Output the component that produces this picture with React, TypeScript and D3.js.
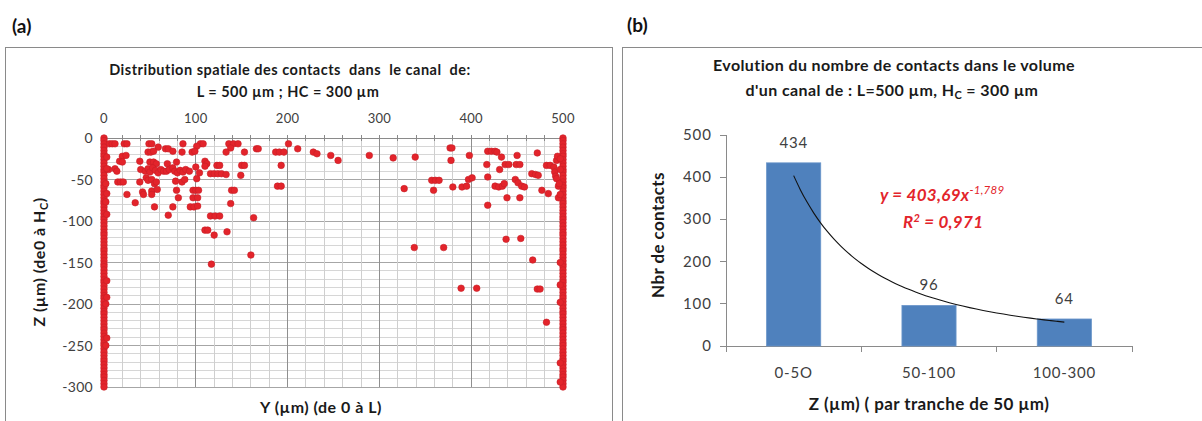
import * as d3 from "d3";

// ---- panel (a): spatial distribution of contacts ----
// interior contacts [Y (µm), Z (µm)]
const contacts: [number, number][] = [
  [6, -7], [9, -7], [12, -7], [22, -7], [25, -7], [49, -7], [52, -7], [86, -7], [105, -7], [108, -7],
  [136, -7], [141, -7], [146, -7], [201, -7],
  [59, -11], [67, -13], [70, -13], [101, -10], [138, -12], [166, -13], [168, -13], [211, -13],
  [48, -17], [51, -17], [54, -16], [75, -16], [85, -17], [96, -17], [99, -16], [133, -17], [153, -17],
  [187, -17], [191, -17], [196, -17],
  [20, -22], [24, -21], [17, -28], [20, -29], [39, -28], [50, -29], [54, -29], [57, -31], [69, -31],
  [79, -29], [110, -28], [112, -31],
  [110, -34], [123, -33], [126, -33], [150, -33], [153, -33], [193, -33],
  [5, -38], [12, -37], [14, -40], [40, -38], [45, -40], [48, -37], [50, -41], [53, -36], [56, -39],
  [59, -42], [62, -38], [65, -40], [68, -40], [71, -38], [75, -36], [77, -40], [80, -42], [83, -39],
  [86, -41], [89, -38], [93, -40], [100, -35], [104, -42],
  [116, -43], [120, -43], [124, -43], [128, -43], [133, -44], [149, -45],
  [15, -53], [18, -53], [21, -53], [39, -53], [46, -48], [48, -51], [52, -50], [55, -55], [57, -53],
  [78, -52], [85, -53], [88, -50], [101, -49],
  [189, -58], [193, -58],
  [42, -65], [52, -64], [58, -62], [79, -63], [97, -63], [100, -63], [103, -63], [139, -63], [142, -63],
  [25, -68], [43, -68], [52, -68], [81, -72], [97, -72], [102, -72],
  [34, -78], [55, -83], [75, -83], [94, -83], [98, -83], [102, -82], [138, -79],
  [70, -93], [116, -94], [121, -94], [126, -94], [163, -96],
  [110, -111], [113, -111], [120, -117], [134, -113], [160, -141], [117, -152],
  [228, -17], [232, -19], [247, -21], [255, -27], [289, -21], [315, -24], [339, -23],
  [377, -12], [379, -12], [378, -27], [398, -21], [418, -16], [422, -16], [426, -16], [428, -17],
  [433, -23], [450, -21], [472, -18],
  [417, -32], [431, -38], [437, -32], [441, -32], [449, -32], [453, -32], [482, -33], [486, -33],
  [490, -35], [493, -27], [494, -22],
  [466, -43], [470, -44], [473, -45], [491, -41], [492, -46], [493, -49],
  [357, -51], [361, -51], [365, -51], [418, -47], [397, -50], [401, -48],
  [327, -61], [359, -63], [380, -59], [390, -59], [395, -58], [426, -58], [430, -59], [434, -58],
  [436, -55], [448, -50], [451, -54], [455, -58], [458, -59],
  [477, -63], [484, -67], [495, -58], [495, -72],
  [439, -72], [453, -72], [418, -81],
  [438, -122], [454, -121], [338, -132], [370, -132], [467, -147],
  [389, -181], [406, -181], [472, -182], [475, -182], [482, -222],
  // small bumps along the walls
  [3, -23], [3, -37], [2, -55], [3, -67], [2, -77], [3, -92],
  [3, -172], [3, -192], [2, -200], [3, -241], [2, -250],
  [497, -25], [497, -38], [496, -55], [497, -68],
  [497, -150], [497, -177], [497, -198], [497, -271], [497, -294],
];

// contacts piled along both walls (Y = 0 and Y = L)
const wallY = [0, 500];
const wallZ = [
  0, -3, -7, -11, -15, -19, -22, -26, -30, -34, -38, -41, -45, -49, -53, -57, -60, -64, -68, -72,
  -76, -79, -83, -87, -91, -95, -98, -102, -106, -110, -114, -117, -121, -125, -129, -133, -136,
  -140, -144, -148, -152, -155, -159, -163, -167, -171, -174, -178, -182, -186, -190, -193, -197,
  -201, -205, -209, -212, -216, -220, -224, -228, -231, -235, -239, -243, -247, -250, -254, -258,
  -262, -266, -269, -273, -277, -281, -285, -288, -292, -296, -300,
];

const yTicksA = [0, -50, -100, -150, -200, -250, -300];
const xTicksA = [0, 100, 200, 300, 400, 500];

// ---- panel (b): number of contacts per Z slice ----
const slices = ["0-5O", "50-100", "100-300"];
const counts = [434, 96, 64];
const countTicks = [0, 100, 200, 300, 400, 500];
const fitA = 403.69;
const fitB = -1.789;

const FONT = "Lato, 'Open Sans', sans-serif";
const RED = "#e3242b";
const INK = "#1a1a1a";

export default function App() {
  // panel (a) scales
  const xa = d3.scaleLinear([0, 500], [104, 563]);
  const za = d3.scaleLinear([0, -300], [138, 387]);

  const points: [number, number][] = [
    ...wallY.flatMap((y) => wallZ.map((z) => [y, z] as [number, number])),
    ...contacts,
  ];

  // panel (b) scales
  const xb = d3.scaleBand(slices, [726, 1132]);
  const yb = d3.scaleLinear([0, 500], [346, 135]);
  const barW = xb.bandwidth() * 0.4;
  const center = (i: number) => xb(slices[0])! + xb.bandwidth() / 2 + i * xb.step();
  const fit = d3
    .range(1, 3.0001, 0.05)
    .map((t) => [center(t - 1), yb(fitA * Math.pow(t, fitB))] as [number, number]);
  const fitLine = d3.line().curve(d3.curveMonotoneX)(fit);

  return (
    <div style={{ position: "absolute", left: 0, top: 0 }}>
      <svg width={1202} height={421} style={{ display: "block", background: "#fff" }} fontFamily={FONT}>
        {/* ---------- panel (a) ---------- */}
        <text x={12} y={33} fontSize={19} fontWeight="bold" fill="#111">(a)</text>
        <rect x={5.5} y={47.5} width={607} height={400} fill="none" stroke="#8a8a8a" />
        <text textAnchor="middle" fontSize={14.5} fontWeight="bold" fill={INK} letterSpacing={0.5}
          style={{ whiteSpace: "pre" }}>
          <tspan x={290} y={75}>Distribution spatiale des contacts  dans  le canal  de:</tspan>
          <tspan x={288} y={97}>L = 500 µm ; HC = 300 µm</tspan>
        </text>

        {/* grid */}
        <g shapeRendering="crispEdges">
          {d3.range(0, -301, -10).map((z) => (
            <line key={"h" + z} x1={xa(0)} x2={xa(500)} y1={za(z)} y2={za(z)}
              stroke={z % 50 === 0 ? "#a6a6a6" : "#d6d6d6"} />
          ))}
          {d3.range(0, 501, 20).map((v) => (
            <line key={"v" + v} x1={xa(v)} x2={xa(v)} y1={za(0)} y2={za(-300)}
              stroke={v % 100 === 0 ? "#8f8f8f" : "#cfcfcf"} />
          ))}
          <line x1={xa(0)} x2={xa(500)} y1={za(0)} y2={za(0)} stroke="#8a8a8a" />
          {d3.range(0, 501, 20).map((v) => (
            <line key={"t" + v} x1={xa(v)} x2={xa(v)} y1={za(0) - 3} y2={za(0) + 3} stroke="#8a8a8a" />
          ))}
        </g>
        {xTicksA.map((v) => (
          <text key={v} x={xa(v)} y={123} textAnchor="middle" fontSize={13} fill="#404040" letterSpacing={0.3}>{v}</text>
        ))}
        {yTicksA.map((v) => (
          <text key={v} x={93} y={za(v) + 5} textAnchor="end" fontSize={14} fill="#404040" letterSpacing={0.3}>{v}</text>
        ))}

        <g fill={RED} stroke="#c81f27" strokeWidth={0.6}>
          {points.map(([y, z], i) => (
            <circle key={i} cx={xa(y)} cy={za(z)} r={3.3} />
          ))}
        </g>

        <text x={321} y={413} textAnchor="middle" fontSize={16} fontWeight="bold" fill={INK} letterSpacing={0.5}>
          Y (µm) (de 0 à L)
        </text>
        <text transform="translate(45,262) rotate(-90)" textAnchor="middle" fontSize={16} fontWeight="bold"
          fill={INK} letterSpacing={0.5}>
          Z (µm) (de0 à H<tspan fontSize={11} dy={3}>C</tspan><tspan dy={-3}>)</tspan>
        </text>

        {/* ---------- panel (b) ---------- */}
        <text x={627} y={32} fontSize={19} fontWeight="bold" fill="#111">(b)</text>
        <rect x={622.5} y={47.5} width={600} height={400} fill="none" stroke="#8a8a8a" />
        <text textAnchor="middle" fontSize={16} fontWeight="bold" fill={INK} letterSpacing={0.4}>
          <tspan x={894} y={71}>Evolution du nombre de contacts dans le volume</tspan>
          <tspan x={892} y={96}>
            d'un canal de : L=500 µm, H<tspan fontSize={11} dy={3}>C</tspan><tspan dy={-3}> = 300 µm</tspan>
          </tspan>
        </text>

        <g shapeRendering="crispEdges" stroke="#8a8a8a">
          <line x1={726} x2={726} y1={yb(500)} y2={yb(0)} />
          {countTicks.map((v) => (
            <line key={v} x1={720} x2={726} y1={yb(v)} y2={yb(v)} />
          ))}
          <line x1={720} x2={1132} y1={yb(0)} y2={yb(0)} />
          {[...slices.map((s) => xb(s)!), 1132].map((x, i) => (
            <line key={i} x1={x} x2={x} y1={yb(0)} y2={yb(0) + 6} />
          ))}
        </g>
        {countTicks.map((v) => (
          <text key={v} x={712} y={yb(v) + 5} textAnchor="end" fontSize={15} fill="#404040" letterSpacing={1}>{v}</text>
        ))}

        {slices.map((s, i) => (
          <g key={s}>
            <rect x={xb(s)! + (xb.bandwidth() - barW) / 2} y={yb(counts[i])} width={barW}
              height={yb(0) - yb(counts[i])} fill="#4f81bd" stroke="#6a95c9" strokeWidth={0.8} />
            <text x={xb(s)! + xb.bandwidth() / 2} y={yb(counts[i]) - 15} textAnchor="middle" fontSize={15}
              fill="#404040" letterSpacing={0.8}>{counts[i]}</text>
            <text x={xb(s)! + xb.bandwidth() / 2} y={378} textAnchor="middle" fontSize={15}
              fill="#404040" letterSpacing={0.8}>{s}</text>
          </g>
        ))}

        <path d={fitLine!} fill="none" stroke="#111" strokeWidth={1.1} />

        <text fontSize={17} fontWeight="bold" fontStyle="italic" fill={RED} letterSpacing={0.3}>
          <tspan x={880} y={201}>y = 403,69x</tspan>
          <tspan fontSize={11.5} dy={-7} fontWeight="normal">-1,789</tspan>
        </text>
        <text x={903} y={228} fontSize={17} fontWeight="bold" fontStyle="italic" fill={RED} letterSpacing={0.3}>
          R<tspan fontSize={11} dy={-6}>2</tspan><tspan dy={6}> = 0,971</tspan>
        </text>

        <text x={929} y={410} textAnchor="middle" fontSize={17} fontWeight="bold" fill={INK} letterSpacing={0.4}>
          Z (µm) ( par tranche de 50 µm)
        </text>
        <text transform="translate(664,235) rotate(-90)" textAnchor="middle" fontSize={17} fontWeight="bold"
          fill={INK} letterSpacing={0.4}>
          Nbr de contacts
        </text>
      </svg>
    </div>
  );
}
